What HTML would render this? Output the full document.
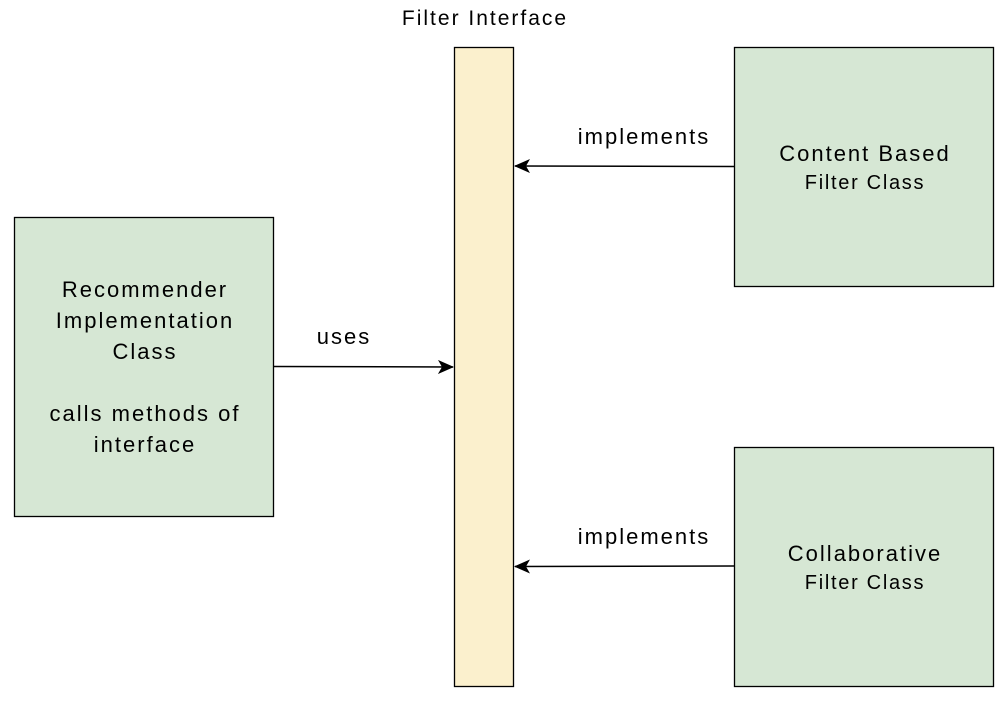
<!DOCTYPE html>
<html><head><meta charset="utf-8"><style>
body{margin:0;width:1006px;height:702px;background:#fff;font-family:"Liberation Sans",Helvetica,Arial,sans-serif;overflow:hidden}
.t{position:absolute;text-align:center;color:#000;white-space:nowrap;letter-spacing:2px;padding-left:2px;box-sizing:border-box}
</style></head><body>
<svg width="1006" height="702" style="position:absolute;left:0;top:0">
<defs><marker id="a" markerWidth="16" markerHeight="14" refX="15" refY="7" orient="auto" markerUnits="userSpaceOnUse">
<path d="M0,0 L16,7 L0,14 L4,7 Z" fill="#000"/></marker></defs>
<rect x="454.5" y="47.5" width="59" height="639" fill="#fbf0cd" stroke="#000" stroke-width="1.3"/>
<rect x="14.5" y="217.5" width="259" height="299" fill="#d6e7d4" stroke="#000" stroke-width="1.3"/>
<rect x="734.5" y="47.5" width="259" height="239" fill="#d6e7d4" stroke="#000" stroke-width="1.3"/>
<rect x="734.5" y="447.5" width="259" height="239" fill="#d6e7d4" stroke="#000" stroke-width="1.3"/>
<line x1="274" y1="366.5" x2="453" y2="367" stroke="#000" stroke-width="1.5" marker-end="url(#a)"/>
<line x1="734" y1="166.5" x2="515" y2="166" stroke="#000" stroke-width="1.5" marker-end="url(#a)"/>
<line x1="734" y1="566" x2="515" y2="566.5" stroke="#000" stroke-width="1.5" marker-end="url(#a)"/>
</svg>
<div class="t" style="left:384px;top:7px;width:200px;font-size:21px;letter-spacing:2px">Filter Interface</div>
<div class="t" style="left:543px;top:124px;width:200px;font-size:22px">implements</div>
<div class="t" style="left:543px;top:524px;width:200px;font-size:22px">implements</div>
<div class="t" style="left:263px;top:324px;width:160px;font-size:22px">uses</div>
<div class="t" style="left:734px;top:140px;width:260px;font-size:22px;line-height:28px">Content Based<br><span style="font-size:20px;letter-spacing:1.7px">Filter Class</span></div>
<div class="t" style="left:734px;top:540px;width:260px;font-size:22px;line-height:28px">Collaborative<br><span style="font-size:20px;letter-spacing:1.7px">Filter Class</span></div>
<div class="t" style="left:14px;top:274px;width:260px;font-size:22px;line-height:31px">Recommender<br>Implementation<br>Class<br><br>calls methods of<br>interface</div>
</body></html>
